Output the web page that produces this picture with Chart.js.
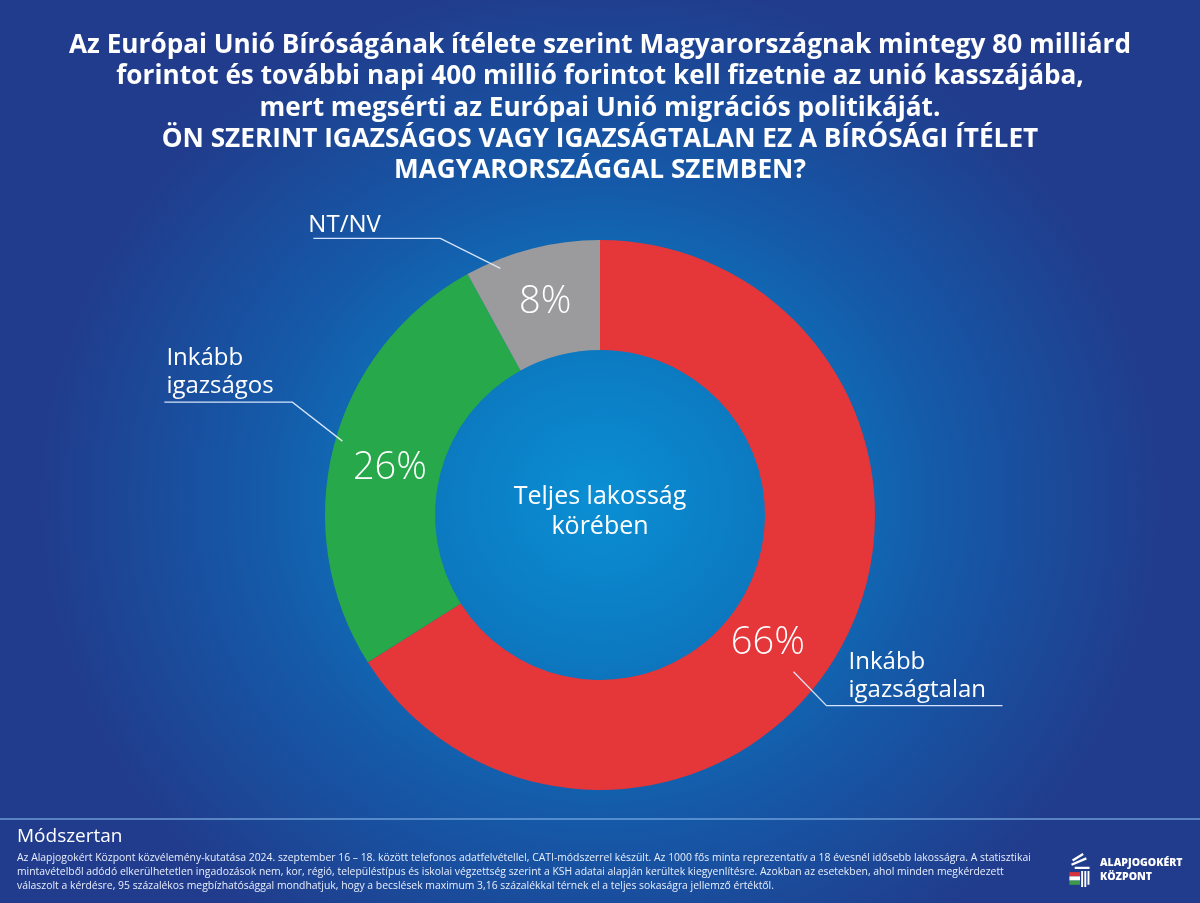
<!DOCTYPE html>
<html lang="hu">
<head>
<meta charset="utf-8">
<script src="https://cdn.jsdelivr.net/npm/chart.js@4.4.1/dist/chart.umd.min.js"></script>
<style>
  html, body { margin: 0; padding: 0; }
  body {
    width: 1200px; height: 903px; overflow: hidden; position: relative;
    font-family: "Open Sans", "Noto Sans", sans-serif; color: #fff;
    background: radial-gradient(ellipse 560px 520px at 600px 500px, #0a8fd4 0%, #0c79c0 30%, #1559a8 62%, #213c8c 100%);
    background-color: #213a89;
  }
  #title {
    position: absolute; left: 0; top: 28px; width: 1200px; text-align: center;
    font-weight: 700; font-size: 26.2px; line-height: 31.3px;
  }
  #wrap { position: absolute; left: 0; top: 0; width: 1200px; height: 903px; }
  #sep { position: absolute; left: 0; top: 818px; width: 1200px; height: 2px; background: #7fb0e6; opacity: 0.6; }
  #footer { position: absolute; left: 17px; top: 824px; width: 1100px; }
  #footer .h { font-size: 19px; line-height: 22px; font-weight: 400; }
  #footer .t { font-size: 10.4px; line-height: 14px; margin-top: 4px; color: #e8eefc; white-space: nowrap; }
  #logo { position: absolute; left: 1068px; top: 850px; width: 130px; height: 40px; }
  #logo .mark { position: absolute; left: 0; top: 2px; width: 24px; height: 36px; }
  #logo .txt { position: absolute; left: 32px; top: 5px; font-size: 10.5px; line-height: 14px; font-weight: 800; }
</style>
</head>
<body>
<div id="wrap"><canvas id="graph-area" width="1200" height="903"></canvas></div>
<div id="title">
  Az Európai Unió Bíróságának ítélete szerint Magyarországnak mintegy 80 milliárd<br>
  forintot és további napi 400 millió forintot kell fizetnie az unió kasszájába,<br>
  mert megsérti az Európai Unió migrációs politikáját.<br>
  ÖN SZERINT IGAZSÁGOS VAGY IGAZSÁGTALAN EZ A BÍRÓSÁGI ÍTÉLET<br>
  MAGYARORSZÁGGAL SZEMBEN?
</div>
<div id="sep"></div>
<div id="footer">
  <div class="h">Módszertan</div>
  <div class="t">Az Alapjogokért Központ közvélemény-kutatása 2024. szeptember 16 – 18. között telefonos adatfelvétellel, CATI-módszerrel készült. Az 1000 fős minta reprezentatív a 18 évesnél idősebb lakosságra. A statisztikai<br>
  mintavételből adódó elkerülhetetlen ingadozások nem, kor, régió, településtípus és iskolai végzettség szerint a KSH adatai alapján kerültek kiegyenlítésre. Azokban az esetekben, ahol minden megkérdezett<br>
  válaszolt a kérdésre, 95 százalékos megbízhatósággal mondhatjuk, hogy a becslések maximum 3,16 százalékkal térnek el a teljes sokaságra jellemző értéktől.</div>
</div>
<div id="logo">
  <svg class="mark" viewBox="0 0 22 34">
    <path d="M4 8 L14 2 M3 12 L17 6 M6 15 L20 15" stroke="#fff" stroke-width="2.2" fill="none"/>
    <rect x="1" y="19" width="10" height="4" fill="#d8343a"/>
    <rect x="1" y="23" width="10" height="4" fill="#fff"/>
    <rect x="1" y="27" width="10" height="4" fill="#3a9a48"/>
    <path d="M13 18 V33 M16 18 V33 M19 18 V31" stroke="#fff" stroke-width="1.8"/>
  </svg>
  <div class="txt">ALAPJOGOKÉRT<br>KÖZPONT</div>
</div>
<script>
window.addEventListener("DOMContentLoaded", function () {
  // adatok
  var categories = ["Inkább igazságtalan", "Inkább igazságos", "NT/NV"];
  var values = [66, 26, 8];
  var colors = ["#e5363a", "#27a84a", "#9b9a9c"];
  var labelLines = [["Inkább", "igazságtalan"], ["Inkább", "igazságos"], ["NT/NV"]];
  var centerLines = ["Teljes lakosság", "körében"];

  // feliratok + vezetővonalak
  var leaders = [
    { ang: 129, r: 249, elbow: [33, 34], len: 176, text: [22, -9], nudge: [-25, 22] },
    { ang: 286, r: 268, elbow: [-50, -39], len: -128, text: [-126, -9], nudge: [3, 8] },
    { ang: 338, r: 266, elbow: [-60, -30], len: -127, text: [-132, -6], nudge: [0, 0] }
  ];

  var labelPlugin = {
    id: "labels",
    afterDatasetsDraw: function (chart) {
      var ctx = chart.ctx;
      var meta = chart.getDatasetMeta(0);
      var arc0 = meta.data[0];
      var cx = arc0.x, cy = arc0.y;
      ctx.save();
      // középső szöveg
      ctx.fillStyle = "#fff";
      ctx.textAlign = "center";
      ctx.textBaseline = "middle";
      ctx.font = "400 25px 'Open Sans'";
      ctx.fillText(centerLines[0], cx, cy - 18);
      ctx.fillText(centerLines[1], cx, cy + 12);

      meta.data.forEach(function (arc, i) {
        var L = leaders[i];
        var mid = (arc.startAngle + arc.endAngle) / 2;
        var rr = (arc.innerRadius + arc.outerRadius) / 2;
        ctx.font = "300 38px 'Open Sans'";
        ctx.textAlign = "center";
        ctx.textBaseline = "middle";
        ctx.fillText(values[i] + "%", cx + Math.cos(mid) * rr + L.nudge[0], cy + Math.sin(mid) * rr + L.nudge[1]);

        var a = (L.ang - 90) * Math.PI / 180;
        var sx = cx + Math.cos(a) * L.r, sy = cy + Math.sin(a) * L.r;
        var ex = sx + L.elbow[0], ey = sy + L.elbow[1];
        ctx.strokeStyle = "rgba(225,235,255,0.95)";
        ctx.lineWidth = 1.3;
        ctx.beginPath();
        ctx.moveTo(sx, sy);
        ctx.lineTo(ex, ey);
        ctx.lineTo(ex + L.len, ey);
        ctx.stroke();

        ctx.font = "400 24px 'Open Sans'";
        ctx.textAlign = "left";
        ctx.textBaseline = "alphabetic";
        var tx = ex + L.text[0], ty = ey + L.text[1];
        var lines = labelLines[i];
        for (var k = 0; k < lines.length; k++) {
          ctx.fillText(lines[k], tx, ty - (lines.length - 1 - k) * 28);
        }
      });
      ctx.restore();
    }
  };

  var canvas = document.getElementById("graph-area");
  new Chart(canvas, {
    type: "doughnut",
    data: {
      labels: categories,
      datasets: [{
        data: values,
        backgroundColor: colors,
        borderWidth: 0,
        hoverOffset: 0
      }]
    },
    options: {
      responsive: false,
      animation: false,
      cutout: "60%",
      rotation: 0,
      layout: { padding: { left: 325, right: 325, top: 240, bottom: 113 } },
      plugins: {
        legend: { display: false },
        tooltip: { enabled: false }
      }
    },
    plugins: [labelPlugin]
  });
});
</script>
</body>
</html>
